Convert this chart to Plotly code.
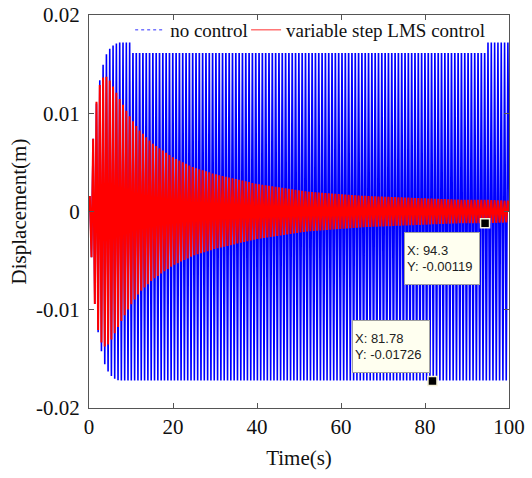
import numpy as np
import plotly.graph_objects as go

# ---- data ----
# oscillation period (s), estimated from stripe spacing
PERIOD = 0.79

# envelope of the uncontrolled response (no control)
NC_T = [0, 0.5, 1, 1.5, 2, 2.5, 3, 3.5, 4, 5, 6, 7, 8, 100]
NC_A = [0, 0.004, 0.0075, 0.0100, 0.0118, 0.0132, 0.0143, 0.0152, 0.0159,
        0.0166, 0.0170, 0.0172, 0.0172, 0.0172]

# envelope of the controlled response (variable step LMS control)
LMS_T = [0, 0.5, 1, 1.7, 2.5, 3.2, 4.0, 5, 6, 7.1, 8.3, 9.5, 11.9, 15.2, 20,
         24.8, 30, 40, 52.6, 65, 76.4, 88, 94.3, 100]
LMS_A = [0, 0.004, 0.0075, 0.011, 0.0128, 0.0136, 0.0138, 0.0133, 0.0125,
         0.0116, 0.0107, 0.0098, 0.0083, 0.0069, 0.0055, 0.0045, 0.0038,
         0.0028, 0.0020, 0.0016, 0.0014, 0.0012, 0.0012, 0.0011]

# data tips
TIP_X = [94.3, 81.78]
TIP_Y = [-0.00119, -0.01726]
TIP_TEXT = ["X: 94.3<br>Y: -0.00119", "X: 81.78<br>Y: -0.01726"]

X_TICKS = [0, 20, 40, 60, 80, 100]
Y_TICKS = [-0.02, -0.01, 0, 0.01, 0.02]
Y_TICK_TEXT = ["-0.02", "-0.01", "0", "0.01", "0.02"]


def peaks(env_t, env_a, phase):
    # alternate between upper and lower envelope every half period
    t = np.arange(phase, 100.0001, PERIOD / 2)
    a = np.interp(t, env_t, env_a)
    sign = np.where(np.arange(len(t)) % 2 == 0, 1.0, -1.0)
    t = np.concatenate([[0], t, [100]])
    y = np.concatenate([[0], a * sign, [0]])
    return t, y


nc_t, nc_y = peaks(NC_T, NC_A, PERIOD / 4)
lms_t, lms_y = peaks(LMS_T, LMS_A, PERIOD / 4)

fig = go.Figure()
fig.add_trace(go.Scatter(x=nc_t, y=nc_y, mode="lines",
                         line=dict(color="#0000ff", width=1.6, simplify=False),
                         showlegend=False, hoverinfo="skip"))
fig.add_trace(go.Scatter(x=lms_t, y=lms_y, mode="lines",
                         line=dict(color="#ff0000", width=2.0, simplify=False),
                         showlegend=False, hoverinfo="skip"))
# legend entries
fig.add_trace(go.Scatter(x=[None], y=[None], mode="lines", name="no control",
                         line=dict(color="#3030ff", width=1, dash="dot"),
                         legend="legend"))
fig.add_trace(go.Scatter(x=[None], y=[None], mode="lines",
                         name="variable step LMS control",
                         line=dict(color="#ff3030", width=1), legend="legend2"))
# data tip markers
fig.add_trace(go.Scatter(x=TIP_X, y=TIP_Y, mode="markers",
                         marker=dict(symbol="square", size=9, color="black",
                                     line=dict(color="#f4f0d8", width=1.5)),
                         showlegend=False, hoverinfo="skip"))

tip_font = dict(family="Liberation Sans, Arial", size=13, color="#222")
# data tip boxes
fig.add_annotation(x=TIP_X[0], y=TIP_Y[0], xref="x", yref="y", text=TIP_TEXT[0],
                   showarrow=False, xanchor="right", yanchor="top",
                   xshift=-5, yshift=-9, align="left", width=70, height=47,
                   bgcolor="#fffff0", bordercolor="#a0a0a0", borderwidth=1,
                   borderpad=2, font=tip_font)
fig.add_annotation(x=TIP_X[1], y=TIP_Y[1], xref="x", yref="y", text=TIP_TEXT[1],
                   showarrow=False, xanchor="right", yanchor="bottom",
                   xshift=-2, yshift=8, align="left", width=72, height=47,
                   bgcolor="#fffff0", bordercolor="#a0a0a0", borderwidth=1,
                   borderpad=2, font=tip_font)

# white legend background box
fig.add_shape(type="rect", xref="paper", yref="paper",
              x0=0.1024, x1=0.9476, y0=0.9033, y1=0.967,
              fillcolor="white", line=dict(width=0), layer="above")

serif = "Liberation Serif, Times New Roman, serif"
axis_common = dict(showline=True, linecolor="#555555", linewidth=1, mirror="ticks",
                   ticks="inside", ticklen=5, tickcolor="#555555",
                   showgrid=False, zeroline=False, automargin=False,
                   tickfont=dict(family=serif, size=21, color="#111"))

fig.update_xaxes(range=[0, 100], tickvals=X_TICKS, **axis_common,
                 title=dict(text="Time(s)", font=dict(family=serif, size=21, color="#111"),
                            standoff=12))
fig.update_yaxes(range=[-0.02, 0.02], tickvals=Y_TICKS, ticktext=Y_TICK_TEXT,
                 **axis_common, ticklabelstandoff=4,
                 title=dict(text="Displacement(m)",
                            font=dict(family=serif, size=21, color="#111"),
                            standoff=3))

legend_font = dict(family=serif, size=19, color="#111")
fig.update_layout(
    width=532, height=478,
    margin=dict(l=89, r=23, t=15, b=70, autoexpand=False),
    paper_bgcolor="white", plot_bgcolor="white",
    legend=dict(orientation="h", x=0.098, xanchor="left", y=0.9135, yanchor="bottom",
                bgcolor="rgba(0,0,0,0)", borderwidth=0, font=legend_font),
    legend2=dict(orientation="h", x=0.374, xanchor="left", y=0.9135, yanchor="bottom",
                 bgcolor="rgba(0,0,0,0)", borderwidth=0, font=legend_font),
)

fig.write_html("out.html")
